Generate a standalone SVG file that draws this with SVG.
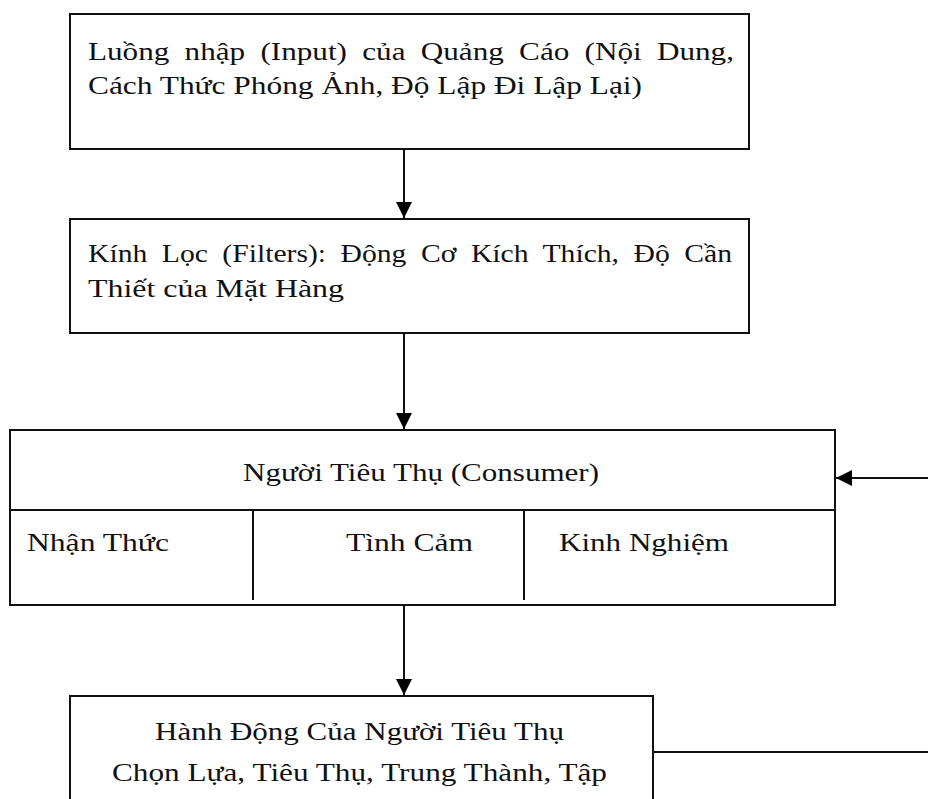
<svg xmlns="http://www.w3.org/2000/svg" width="928" height="799" viewBox="0 0 928 799">
<defs>
<marker id="arr" markerWidth="16" markerHeight="16" refX="16" refY="8" orient="auto" markerUnits="userSpaceOnUse">
<path d="M0,0 L16,8 L0,16 Z" fill="#000"/>
</marker>
<style>
rect{fill:#fff;stroke:#111;stroke-width:2}
.ln{stroke:#111;stroke-width:2;fill:none}
text{font-family:"Liberation Serif","DejaVu Serif",serif;font-size:25px;fill:#111}
.j{word-spacing:6px}
</style>
</defs>
<rect x="0" y="0" width="928" height="799" style="fill:#fff;stroke:none"/>
<g id="connectors">
<line class="ln" x1="404" y1="149" x2="404" y2="218" marker-end="url(#arr)"/>
<line class="ln" x1="404" y1="333" x2="404" y2="429" marker-end="url(#arr)"/>
<line class="ln" x1="404" y1="605" x2="404" y2="695" marker-end="url(#arr)"/>
<line class="ln" x1="928" y1="478" x2="836" y2="478" marker-end="url(#arr)"/>
<line class="ln" x1="653" y1="752" x2="928" y2="752"/>
</g>
<g id="input">
<rect x="70" y="14" width="679" height="135"/>
<text class="j" x="88" y="60" textLength="646" lengthAdjust="spacingAndGlyphs">Luồng nhập (Input) của Quảng Cáo (Nội Dung,</text>
<text x="88" y="94" textLength="554" lengthAdjust="spacingAndGlyphs">Cách Thức Phóng Ảnh, Độ Lập Đi Lập Lại)</text>
</g>
<g id="filters">
<rect x="70" y="219" width="679" height="114"/>
<text class="j" x="88" y="262" textLength="644" lengthAdjust="spacingAndGlyphs">Kính Lọc (Filters): Động Cơ Kích Thích, Độ Cần</text>
<text x="88" y="297" textLength="256" lengthAdjust="spacingAndGlyphs">Thiết của Mặt Hàng</text>
</g>
<g id="consumer">
<rect x="10" y="430" width="825" height="175"/>
<line class="ln" x1="10" y1="510" x2="835" y2="510"/>
<line class="ln" x1="253" y1="510" x2="253" y2="600"/>
<line class="ln" x1="524" y1="510" x2="524" y2="600"/>
<text x="243" y="481" textLength="356" lengthAdjust="spacingAndGlyphs">Người Tiêu Thụ (Consumer)</text>
<text x="27" y="551" textLength="142" lengthAdjust="spacingAndGlyphs">Nhận Thức</text>
<text x="346" y="551" textLength="127" lengthAdjust="spacingAndGlyphs">Tình Cảm</text>
<text x="559" y="551" textLength="170" lengthAdjust="spacingAndGlyphs">Kinh Nghiệm</text>
</g>
<g id="action">
<rect x="70" y="696" width="583" height="120"/>
<text x="155" y="740" textLength="409" lengthAdjust="spacingAndGlyphs">Hành Động Của Người Tiêu Thụ</text>
<text x="112" y="781" textLength="495" lengthAdjust="spacingAndGlyphs">Chọn Lựa, Tiêu Thụ, Trung Thành, Tập</text>
</g>
</svg>
